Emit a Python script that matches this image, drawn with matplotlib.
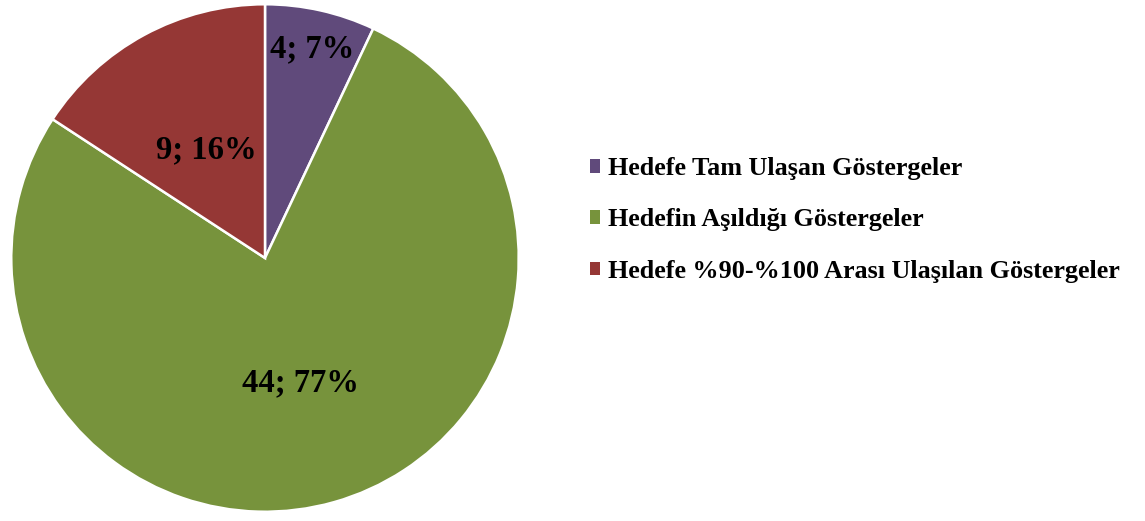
import numpy as np
import matplotlib.pyplot as plt
from matplotlib.patches import Patch

labels = ['Hedefe Tam Ulaşan Göstergeler',
          'Hedefin Aşıldığı Göstergeler',
          'Hedefe %90-%100 Arası Ulaşılan Göstergeler']
counts = [4, 44, 9]
colors = ['#604A7B', '#77933C', '#953735']

plt.rcParams['font.family'] = ['Liberation Serif', 'DejaVu Serif']
plt.rcParams['font.weight'] = 'bold'

fig = plt.figure(figsize=(11.45, 5.21), dpi=100)
ax = fig.add_axes([10 / 1145, 8 / 521, 510 / 1145, 510 / 521])

total = sum(counts)
wedges, texts, autotexts = ax.pie(
    counts, colors=colors, startangle=90, counterclock=False, radius=1,
    autopct=lambda p: '{:d}; {:.0f}%'.format(int(round(p * total / 100)), p),
    pctdistance=0.6,
    wedgeprops=dict(edgecolor='white', linewidth=1.8),
    textprops=dict(fontsize=23.5, fontweight='bold', color='black'))

# push labels out/in along their mid angles like the original
radii = [0.845, 0.51, 0.485]
for w, t, r in zip(wedges, autotexts, radii):
    ang = np.deg2rad((w.theta1 + w.theta2) / 2)
    t.set_position((r * np.cos(ang), r * np.sin(ang)))

ax.set_xlim(-1.005, 1.005)
ax.set_ylim(-1.005, 1.005)
ax.set_aspect('equal')
ax.axis('off')

handles = [Patch(facecolor=c, edgecolor='none') for c in colors]
fig.legend(handles, labels, loc='center left', bbox_to_anchor=(566 / 1145, 1 - 220 / 521),
           frameon=False, handlelength=0.42, handleheight=0.42,
           handletextpad=0.28, labelspacing=1.08, prop=dict(weight='bold', size=18.8))

fig.savefig('out.png', dpi=100)
